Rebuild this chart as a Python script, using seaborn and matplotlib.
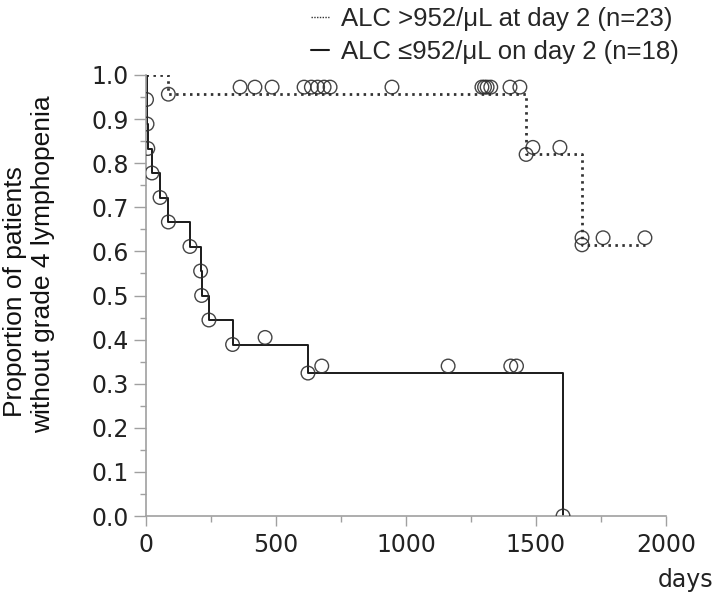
import numpy as np
import pandas as pd
import seaborn as sns
import matplotlib
matplotlib.use("Agg")
import matplotlib.pyplot as plt
from matplotlib.lines import Line2D
from matplotlib.ticker import MultipleLocator, FormatStrFormatter

# ---------------- data ----------------
high_label = "ALC >952/μL at day 2 (n=23)"
high_times = [86, 362, 419, 485, 608, 636, 660, 685, 708, 946, 1292, 1302, 1312,
              1326, 1400, 1438, 1462, 1488, 1592, 1677, 1677, 1758, 1919]
high_events = [1, 0, 0, 0, 0, 0, 0, 0, 0, 0, 0, 0, 0,
               0, 0, 0, 1, 0, 0, 1, 0, 0, 0]

low_label = "ALC ≤952/μL on day 2 (n=18)"
low_times = [2, 4, 7, 23, 54, 86, 169, 210, 214, 242, 333, 458, 623, 676,
             1162, 1403, 1425, 1604]
low_events = [1, 1, 1, 1, 1, 1, 1, 1, 1, 1, 1, 0, 1, 0, 0, 0, 0, 1]

x_ticks = [0, 500, 1000, 1500, 2000]
y_ticks = [0.0, 0.1, 0.2, 0.3, 0.4, 0.5, 0.6, 0.7, 0.8, 0.9, 1.0]
y_title_lines = ["Proportion of patients", "without grade 4 lymphopenia"]
x_title = "days"

CENSOR_LIFT = 0.016  # censor marks drawn slightly above the curve


def kaplan_meier(times, events):
    df = pd.DataFrame({"t": times, "e": events}).sort_values(["t", "e"],
                                                              ascending=[True, False])
    at_risk = len(df)
    s = 1.0
    step_x, step_y = [0.0], [1.0]
    mark_x, mark_y = [], []
    for t, grp in df.groupby("t", sort=True):
        d = int(grp["e"].sum())
        c = len(grp) - d
        for _ in range(d):
            s *= (at_risk - 1) / at_risk
            at_risk -= 1
            step_x.append(t)
            step_y.append(s)
            mark_x.append(t)
            mark_y.append(s)
        for _ in range(c):
            mark_x.append(t)
            mark_y.append(s + CENSOR_LIFT)
        at_risk -= c
    step_x.append(df["t"].max())
    step_y.append(s)
    return step_x, step_y, mark_x, mark_y


sns.set_style("ticks")
plt.rcParams["font.family"] = ["DejaVu Sans"]

fig = plt.figure(figsize=(7.2, 5.96), dpi=100)
ax = fig.add_axes([146 / 720, 1 - 516 / 596, 520 / 720, 441 / 596])

line_col = "#1a1a1a"
mark_col = "#303030"

hx, hy, hmx, hmy = kaplan_meier(high_times, high_events)
lx, ly, lmx, lmy = kaplan_meier(low_times, low_events)

sns.lineplot(x=hx, y=hy, ax=ax, drawstyle="steps-post", estimator=None, sort=False,
             color="#333333", linewidth=2.0, linestyle=(0, (0.9, 1.6)))
sns.lineplot(x=lx, y=ly, ax=ax, drawstyle="steps-post", estimator=None, sort=False,
             color=line_col, linewidth=1.4)

for mx, my in ((hmx, hmy), (lmx, lmy)):
    sns.scatterplot(x=mx, y=my, ax=ax, marker="o", s=96, facecolor="none",
                    edgecolor=mark_col, linewidth=1.0, alpha=0.9, zorder=3)

ax.set_xlim(0, 2000)
ax.set_ylim(0, 1.0)
ax.set_xticks(x_ticks)
ax.set_yticks(y_ticks)
ax.xaxis.set_minor_locator(MultipleLocator(250))
ax.yaxis.set_minor_locator(MultipleLocator(0.05))
ax.yaxis.set_major_formatter(FormatStrFormatter("%.1f"))
ax.set_xlabel("")
ax.set_ylabel("")

spine_col = "#a0a0a0"
for side in ("top", "right"):
    ax.spines[side].set_visible(False)
for side in ("left", "bottom"):
    ax.spines[side].set_color(spine_col)
    ax.spines[side].set_linewidth(1.2)

ax.tick_params(axis="y", which="major", length=8.5, width=1.0, color=spine_col,
               labelsize=17, labelcolor="#222222", pad=4)
ax.tick_params(axis="y", which="minor", length=4.3, width=1.0, color=spine_col)
ax.tick_params(axis="x", which="major", length=7.5, width=1.0, color=spine_col,
               labelsize=17, labelcolor="#222222", pad=5)
ax.tick_params(axis="x", which="minor", length=4.0, width=1.0, color=spine_col)

# two-line y title (the lines are offset from each other in the reference)
fig.text(15 / 720, 1 - 292 / 596, y_title_lines[0], rotation=90, ha="center",
         va="center", fontsize=19, family="Liberation Sans", color="#111111")
fig.text(43 / 720, 1 - 264 / 596, y_title_lines[1], rotation=90, ha="center",
         va="center", fontsize=19, family="Liberation Sans", color="#111111")
fig.text(713 / 720, 1 - 580 / 596, x_title, ha="right", va="center", fontsize=17,
         color="#222222")

handles = [Line2D([0], [0], color="#333333", linewidth=1.0, linestyle=(0, (1, 1))),
           Line2D([0], [0], color=line_col, linewidth=1.5)]
fig.legend(handles, [high_label, low_label], loc="upper left",
           bbox_to_anchor=(306 / 720, 1 - 2 / 596), frameon=False,
           prop={"family": "Liberation Sans", "size": 18.5},
           handlelength=0.7, handletextpad=0.45, labelspacing=0.33,
           borderpad=0.2, borderaxespad=0)

fig.savefig("out.png", dpi=100)
